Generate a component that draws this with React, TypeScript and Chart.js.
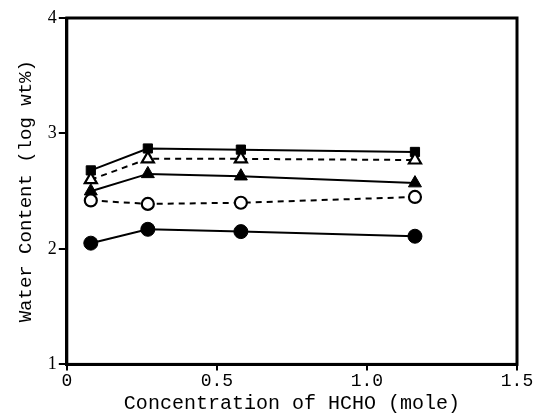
import React, { useEffect, useRef } from "react";
import { Chart, registerables } from "chart.js";

Chart.register(...registerables);

const concentration = [0.08, 0.27, 0.58, 1.16];
const squareFilled = [2.68, 2.87, 2.86, 2.84];
const triangleOpen = [2.6, 2.78, 2.78, 2.77];
const triangleFilled = [2.5, 2.65, 2.63, 2.57];
const circleOpen = [2.42, 2.39, 2.4, 2.45];
const circleFilled = [2.05, 2.17, 2.15, 2.11];

const xTicks = [0, 0.5, 1.0, 1.5];
const xTickLabels = ["0", "0.5", "1.0", "1.5"];
const yTicks = [1, 2, 3, 4];

const toPts = (ys: number[]) => concentration.map((x, i) => ({ x, y: ys[i] }));

const frame = {
  id: "frame",
  afterDatasetsDraw(chart: any) {
    const { ctx, chartArea } = chart;
    ctx.save();
    ctx.strokeStyle = "#000";
    ctx.lineWidth = 3;
    ctx.strokeRect(chartArea.left, chartArea.top, chartArea.right - chartArea.left, chartArea.bottom - chartArea.top);
    ctx.restore();
  },
};

export default function App() {
  const ref = useRef<HTMLCanvasElement>(null);
  useEffect(() => {
    const mk = (label: string, ys: number[], style: string, filled: boolean, dashed: boolean, radius: number) => ({
      label,
      data: toPts(ys),
      borderColor: "#000",
      backgroundColor: filled ? "#000" : "#fff",
      pointStyle: style,
      pointRadius: radius,
      pointBorderWidth: filled ? 1 : 2.2,
      pointBackgroundColor: filled ? "#000" : "#fff",
      pointBorderColor: "#000",
      borderWidth: 2,
      borderDash: dashed ? [6, 5] : [],
      showLine: true,
      tension: 0,
    });
    const chart = new Chart(ref.current!, {
      type: "scatter",
      data: {
        datasets: [
          mk("circleFilled", circleFilled, "circle", true, false, 7),
          mk("circleOpen", circleOpen, "circle", false, true, 6),
          mk("triangleFilled", triangleFilled, "triangle", true, false, 7.5),
          mk("triangleOpen", triangleOpen, "triangle", false, true, 7),
          mk("squareFilled", squareFilled, "rect", true, false, 6.5),
        ],
      },
      plugins: [frame],
      options: {
        animation: false,
        responsive: false,
        maintainAspectRatio: false,
        layout: { padding: { top: 18, right: 19, left: 15, bottom: 0 } },
        plugins: { legend: { display: false }, tooltip: { enabled: false } },
        scales: {
          x: {
            type: "linear",
            min: 0,
            max: 1.5,
            afterBuildTicks: (axis: any) => {
              axis.ticks = xTicks.map((v) => ({ value: v }));
            },
            ticks: {
              color: "#000",
              font: { family: "Liberation Mono", size: 18 },
              padding: 0,
              maxRotation: 0,
              callback: (v: any) => {
                const i = xTicks.indexOf(Number(v));
                return i >= 0 ? xTickLabels[i] : "";
              },
            },
            grid: { drawOnChartArea: false, drawTicks: true, tickLength: 6, color: "#000", lineWidth: 2 },
            border: { display: true, color: "#000", width: 3 },
            title: {
              display: true,
              text: "Concentration of HCHO (mole)",
              color: "#000",
              font: { family: "Liberation Mono", size: 20 },
              padding: { top: 0, bottom: 3 },
            },
          },
          y: {
            type: "linear",
            min: 1,
            max: 4,
            afterBuildTicks: (axis: any) => {
              axis.ticks = yTicks.map((v) => ({ value: v }));
            },
            ticks: {
              color: "#000",
              font: { family: "Liberation Serif", size: 18 },
              padding: 2,
            },
            grid: { drawOnChartArea: false, drawTicks: true, tickLength: 8, color: "#000", lineWidth: 2 },
            border: { display: true, color: "#000", width: 3 },
            title: {
              display: true,
              text: "Water Content (log wt%)",
              color: "#000",
              font: { family: "Liberation Mono", size: 19 },
              padding: { top: 0, bottom: 8 },
            },
          },
        },
      },
    });
    return () => chart.destroy();
  }, []);
  return (
    <div style={{ position: "fixed", left: 0, top: 0, width: 536, height: 419, background: "#fff" }}>
      <canvas ref={ref} width={536} height={419} style={{ width: 536, height: 419 }} />
    </div>
  );
}
